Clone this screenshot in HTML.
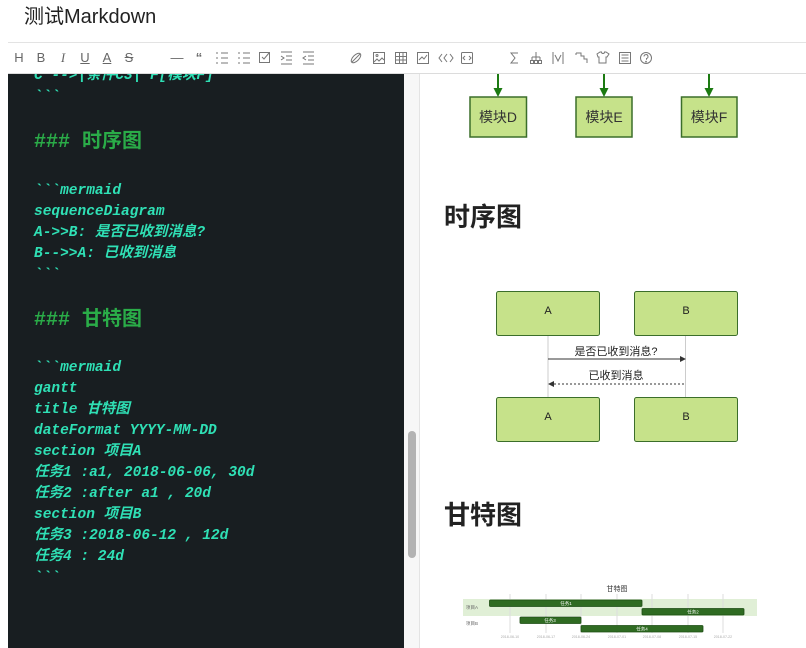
<!DOCTYPE html>
<html><head><meta charset="utf-8">
<style>
html,body{margin:0;padding:0;background:#fff;}
body{width:806px;height:648px;position:relative;overflow:hidden;font-family:"Liberation Sans","Noto Sans CJK SC",sans-serif;}
.title{position:absolute;left:24px;top:4px;font-size:20px;color:#222;line-height:26px;}
.hr{position:absolute;left:8px;right:0;top:42px;height:1px;background:#e3e3e3;}
.tb{position:absolute;left:8px;right:0;top:73px;height:1px;background:#dcdcdc;}
.ic{position:absolute;top:50px;font-size:13px;line-height:16px;color:#666;text-align:center;width:14px;}
.editor{position:absolute;left:8px;top:74px;width:396px;height:574px;background:#181e21;overflow:hidden;}
.sb{position:absolute;left:404px;top:74px;width:15px;height:574px;background:#f7f7f7;border-right:1px solid #e4e4e4;}
.thumb{position:absolute;left:408px;top:431px;width:8px;height:127px;background:#b3b3b3;border-radius:4px;}
.ln{position:absolute;left:26px;font-family:"Liberation Mono","Noto Sans CJK SC",monospace;font-style:italic;font-weight:bold;font-size:14.5px;line-height:21px;color:#2fe0b5;white-space:pre;}
.hd{position:absolute;left:26px;font-family:"Liberation Mono","Noto Sans CJK SC",monospace;font-weight:bold;font-size:20px;line-height:28px;color:#2aac48;white-space:pre;}
.h2{position:absolute;left:444px;font-size:26px;font-weight:bold;color:#222;line-height:32px;}
</style></head><body>
<div class="title">测试Markdown</div>
<div class="hr"></div>
<div class="ic" style="left:12px;">H</div>
<div class="ic" style="left:34px;">B</div>
<div class="ic" style="left:56px;font-style:italic;font-family:'Liberation Serif',serif;">I</div>
<div class="ic" style="left:78px;text-decoration:underline;">U</div>
<div class="ic" style="left:100px;text-decoration:underline;">A</div>
<div class="ic" style="left:122px;text-decoration:line-through;">S</div>
<div class="ic" style="left:170px;">—</div>
<div class="ic" style="left:192px;font-weight:bold;">“</div>
<svg style="position:absolute;left:0;top:42px" width="806" height="31">
<g stroke="#777" stroke-width="1" fill="none">
<path d="M216 11h2M216 16h2M216 21h2M221 11h7M221 16h7M221 21h7"/>
<path d="M238 11h2M238 16h2M238 21h2M243 11h7M243 16h7M243 21h7"/>
<rect x="259.5" y="10.5" width="10" height="10"/><path d="M262 15l2 2 5-6"/>
<path d="M281 10h11M286 14h6M286 18h6M281 22h11M281 14l3 2-3 2"/>
<path d="M303 10h11M308 14h6M308 18h6M303 22h11M306 14l-3 2 3 2"/>
<path d="M352 20l8-8"/>
<ellipse cx="356" cy="16" rx="6" ry="3" transform="rotate(-45 356 16)"/>
<rect x="373.5" y="10.5" width="11" height="11"/><path d="M374 20l3-3 2 2 3-3 2 2"/><circle cx="377" cy="13.5" r="1"/>
<rect x="395.5" y="10.5" width="11" height="11"/><path d="M395 14.5h12M395 18h12M399.5 10v12M403 10v12"/>
<rect x="417.5" y="10.5" width="11" height="11"/><path d="M419 18l3-3 2 2 3-4"/>
<path d="M442 12l-3 4 3 4M447 12l-3 4 3 4"/><path d="M450 12l3 4-3 4"/>
<rect x="461.5" y="10.5" width="11" height="11" rx="1"/><path d="M465 14l-2 2 2 2M469 14l2 2-2 2"/>
<path d="M518 11h-7l4 5-4 5h7"/>
<path d="M536 10v5M532 15h8M532 15v3M536 15v3M540 15v3"/><rect x="530.5" y="18.5" width="3" height="3"/><rect x="534.5" y="18.5" width="3" height="3"/><rect x="538.5" y="18.5" width="3" height="3"/>
<path d="M553 10v12M563 10v12M555 13l3 6 3-6"/>
<path d="M576 11h5v3h3v3h3v4M576 11v2"/>
<path d="M597 12l3-2h1.5a1.5 1.5 0 0 0 3 0H606l3 2-2 3h-1v6h-7v-6h-1z"/>
<rect x="619.5" y="10.5" width="11" height="11"/><path d="M621.5 13h7M621.5 16h7M621.5 19h7"/>
<circle cx="646" cy="16" r="5.5"/><path d="M644 14.5a2 2 0 1 1 2.5 2v1.3"/><circle cx="646" cy="19.7" r="0.4"/>
</g>
</svg>
<div class="tb"></div>

<div class="editor">
<div class="ln" style="top:-8.5px;">C --&gt;|条件C3| F[模块F]</div>
<div class="ln" style="top:12.5px;">&#96;&#96;&#96;</div>
<div class="hd" style="top:55px;">### 时序图</div>
<div class="ln" style="top:106.5px;">&#96;&#96;&#96;mermaid</div>
<div class="ln" style="top:127.5px;">sequenceDiagram</div>
<div class="ln" style="top:148.5px;">A-&gt;&gt;B: 是否已收到消息?</div>
<div class="ln" style="top:169.5px;">B--&gt;&gt;A: 已收到消息</div>
<div class="ln" style="top:190.5px;">&#96;&#96;&#96;</div>
<div class="hd" style="top:233px;">### 甘特图</div>
<div class="ln" style="top:283.5px;">&#96;&#96;&#96;mermaid</div>
<div class="ln" style="top:304.5px;">gantt</div>
<div class="ln" style="top:325.5px;">title 甘特图</div>
<div class="ln" style="top:346.5px;">dateFormat YYYY-MM-DD</div>
<div class="ln" style="top:367.5px;">section 项目A</div>
<div class="ln" style="top:388.5px;">任务1 :a1, 2018-06-06, 30d</div>
<div class="ln" style="top:409.5px;">任务2 :after a1 , 20d</div>
<div class="ln" style="top:430.5px;">section 项目B</div>
<div class="ln" style="top:451.5px;">任务3 :2018-06-12 , 12d</div>
<div class="ln" style="top:472.5px;">任务4 : 24d</div>
<div class="ln" style="top:493.5px;">&#96;&#96;&#96;</div>
</div>
<div class="sb"></div>
<div class="thumb"></div>

<svg style="position:absolute;left:0;top:0" width="806" height="648">
<g stroke="#1c7a12" stroke-width="2" fill="#1c7a12">
<line x1="498" y1="74" x2="498" y2="89"/><path d="M493.5 88l4.5 9 4.5-9z" stroke="none"/>
<line x1="604" y1="74" x2="604" y2="89"/><path d="M599.5 88l4.5 9 4.5-9z" stroke="none"/>
<line x1="709" y1="74" x2="709" y2="89"/><path d="M704.5 88l4.5 9 4.5-9z" stroke="none"/>
</g>
<g fill="#c6e28a" stroke="#3b6e2a" stroke-width="1.5">
<rect x="470" y="97" width="56.5" height="40"/>
<rect x="576" y="97" width="56" height="40"/>
<rect x="681.5" y="97" width="55.5" height="40"/>
</g>
<g font-family="Liberation Sans,Noto Sans CJK SC,sans-serif" font-size="14" fill="#333" text-anchor="middle">
<text x="498" y="122">模块D</text>
<text x="604" y="122">模块E</text>
<text x="709" y="122">模块F</text>
</g>
<g stroke="#ccc" stroke-width="1"><line x1="548" y1="335" x2="548" y2="397"/><line x1="685.5" y1="335" x2="685.5" y2="397"/></g>
<g fill="#c6e28a" stroke="#3b6e2a" stroke-width="1">
<rect x="496.5" y="291.5" width="103" height="44" rx="2"/>
<rect x="634.5" y="291.5" width="103" height="44" rx="2"/>
<rect x="496.5" y="397.5" width="103" height="44" rx="2"/>
<rect x="634.5" y="397.5" width="103" height="44" rx="2"/>
</g>
<g font-family="Liberation Sans,Noto Sans CJK SC,sans-serif" font-size="11" fill="#222" text-anchor="middle">
<text x="548" y="314">A</text><text x="686" y="314">B</text>
<text x="548" y="420">A</text><text x="686" y="420">B</text>
<text x="616" y="355">是否已收到消息?</text>
<text x="616" y="379">已收到消息</text>
</g>
<line x1="548" y1="359" x2="680" y2="359" stroke="#333" stroke-width="1"/>
<path d="M680 356l6 3-6 3z" fill="#333"/>
<line x1="554" y1="384" x2="685" y2="384" stroke="#333" stroke-width="1" stroke-dasharray="2,2"/>
<path d="M554 381l-6 3 6 3z" fill="#333"/>
<rect x="463" y="599" width="294" height="17" fill="#e0efd6"/>
<g stroke="#ddd" stroke-width="1">
<line x1="510" y1="594" x2="510" y2="633"/><line x1="546" y1="594" x2="546" y2="633"/>
<line x1="581" y1="594" x2="581" y2="633"/><line x1="617" y1="594" x2="617" y2="633"/>
<line x1="652" y1="594" x2="652" y2="633"/><line x1="688" y1="594" x2="688" y2="633"/>
<line x1="723" y1="594" x2="723" y2="633"/>
</g>
<g fill="#2f6b22" stroke="#1d4d14" stroke-width="0.8">
<rect x="489.5" y="600" width="152.5" height="6.5" rx="1"/>
<rect x="642" y="608.5" width="102" height="6.5" rx="1"/>
<rect x="520" y="617" width="61" height="6.5" rx="1"/>
<rect x="581" y="625.5" width="122" height="6.5" rx="1"/>
</g>
<g font-family="Liberation Sans,Noto Sans CJK SC,sans-serif" font-size="4.5" fill="#fff" text-anchor="middle">
<text x="566" y="605">任务1</text><text x="693" y="613.5">任务2</text>
<text x="550" y="622">任务3</text><text x="642" y="630.5">任务4</text>
</g>
<g font-family="Liberation Sans,Noto Sans CJK SC,sans-serif" font-size="4.5" fill="#666">
<text x="466" y="609">项目A</text><text x="466" y="625">项目B</text>
</g>
<g font-family="Liberation Sans,sans-serif" font-size="3.6" fill="#aaa" text-anchor="middle">
<text x="510" y="638">2018-06-10</text><text x="546" y="638">2018-06-17</text>
<text x="581" y="638">2018-06-24</text><text x="617" y="638">2018-07-01</text>
<text x="652" y="638">2018-07-08</text><text x="688" y="638">2018-07-15</text>
<text x="723" y="638">2018-07-22</text>
</g>
<text x="617" y="591" font-family="Liberation Sans,Noto Sans CJK SC,sans-serif" font-size="7" fill="#333" text-anchor="middle">甘特图</text>
</svg>
<div class="h2" style="top:201px;">时序图</div>
<div class="h2" style="top:499px;">甘特图</div>
</body></html>
